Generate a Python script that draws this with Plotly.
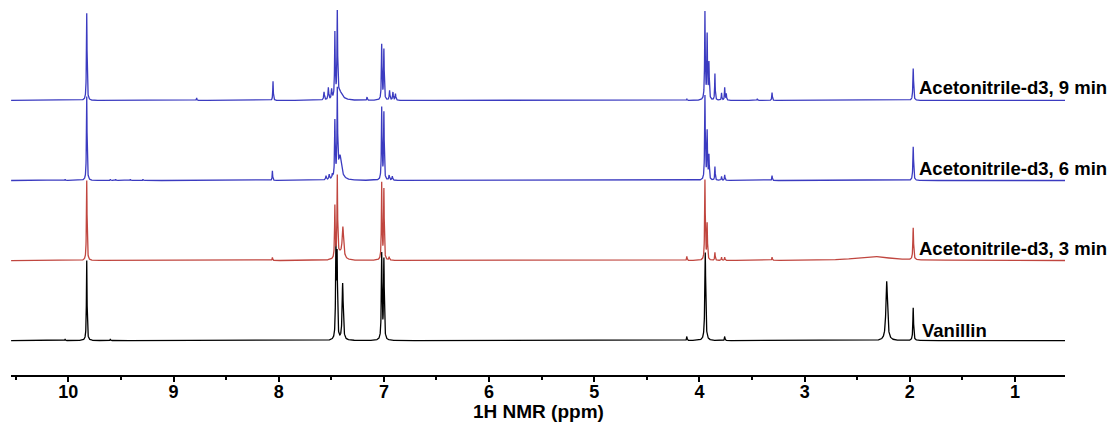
import numpy as np
import plotly.graph_objects as go

# ---- data (ppm, relative intensity, half-width) ----
labels = ["Vanillin", "Acetonitrile-d3, 3 min", "Acetonitrile-d3, 6 min", "Acetonitrile-d3, 9 min"]
colors = ["#000000", "#C0463F", "#3B3BC0", "#3B3BC0"]
offsets = [0, 1, 2, 3]

vanillin_ppm = [10.03, 9.825, 9.60, 7.456, 7.445, 7.392, 7.021, 7.000, 4.12, 3.945, 3.76, 2.22, 1.968]
vanillin_int = [0.02, 1.00, 0.02, 1.15, 1.00, 0.71, 1.07, 1.00, 0.05, 1.10, 0.05, 0.74, 0.41]
vanillin_w = [0.003, 0.0035, 0.003, 0.004, 0.004, 0.006, 0.004, 0.004, 0.003, 0.005, 0.003, 0.009, 0.004]

min3_ppm = [9.825, 8.06, 7.466, 7.443, 7.42, 7.39, 7.021, 7.000, 6.95, 4.12, 3.948, 3.927, 3.853, 3.79, 3.76, 3.31, 2.35, 1.968]
min3_int = [1.00, 0.04, 0.65, 1.00, 0.08, 0.38, 0.96, 0.88, 0.04, 0.05, 1.00, 0.45, 0.10, 0.04, 0.04, 0.04, 0.05, 0.40]
min3_w = [0.0035, 0.003, 0.0035, 0.0035, 0.03, 0.008, 0.0035, 0.0035, 0.004, 0.003, 0.0035, 0.0035, 0.003, 0.003, 0.003, 0.003, 0.2, 0.004]

min6_ppm = [10.03, 9.825, 9.60, 9.55, 9.41, 9.29, 8.06, 7.55, 7.52, 7.49, 7.466, 7.443, 7.42, 7.417, 7.021, 7.000,
            6.95, 6.92, 3.948, 3.927, 3.91, 3.853, 3.79, 3.76, 3.31, 1.968]
min6_int = [0.015, 1.05, 0.015, 0.015, 0.015, 0.015, 0.12, 0.05, 0.06, 0.05, 0.70, 1.05, 0.10, 0.20, 0.90, 0.84,
            0.06, 0.05, 1.05, 0.60, 0.30, 0.17, 0.05, 0.07, 0.06, 0.42]
min6_w = [0.003, 0.0035, 0.003, 0.003, 0.003, 0.003, 0.003, 0.004, 0.004, 0.004, 0.0035, 0.0035, 0.03, 0.013, 0.0035, 0.0035,
          0.004, 0.004, 0.0035, 0.0035, 0.0035, 0.003, 0.003, 0.003, 0.003, 0.004]

min9_ppm = [9.825, 8.78, 8.054, 7.569, 7.528, 7.497, 7.466, 7.443, 7.42, 7.16, 7.021, 7.000, 6.946, 6.914, 6.89,
            4.12, 3.948, 3.927, 3.91, 3.853, 3.79, 3.76, 3.745, 3.45, 3.31, 1.968]
min9_int = [1.09, 0.03, 0.24, 0.10, 0.15, 0.12, 0.81, 1.09, 0.10, 0.04, 0.69, 0.63, 0.12, 0.10, 0.08,
            0.02, 1.09, 0.80, 0.45, 0.33, 0.09, 0.16, 0.08, 0.02, 0.10, 0.40]
min9_w = [0.0035, 0.003, 0.003, 0.004, 0.004, 0.004, 0.0035, 0.0035, 0.03, 0.003, 0.0035, 0.0035, 0.004, 0.004, 0.004,
          0.003, 0.0035, 0.0035, 0.0035, 0.003, 0.003, 0.003, 0.003, 0.003, 0.003, 0.004]

peak_sets = [(vanillin_ppm, vanillin_int, vanillin_w),
             (min3_ppm, min3_int, min3_w),
             (min6_ppm, min6_int, min6_w),
             (min9_ppm, min9_int, min9_w)]

tick_vals = [10, 9, 8, 7, 6, 5, 4, 3, 2, 1]
x_range = [10.545, 0.525]


def spectrum(ppm, inten, width):
    base = np.arange(0.525, 10.545, 0.001)
    grid = np.unique(np.concatenate([base, np.array(ppm)]))[::-1]
    y = np.zeros_like(grid)
    for p, h, w in zip(ppm, inten, width):
        y += h * w**2 / ((grid - p) ** 2 + w**2)
    return grid, y


fig = go.Figure()
for (ppm, inten, width), col, off in zip(peak_sets, colors, offsets):
    xx, yy = spectrum(ppm, inten, width)
    fig.add_trace(go.Scatter(x=xx, y=yy + off, mode="lines",
                             line=dict(color=col, width=1.3), hoverinfo="skip", showlegend=False))

FAM = "Liberation Sans, Arial, sans-serif"
font_lab = dict(family=FAM, size=18.5, color="black", weight="bold")

label_y = [0.125, 0.15, 0.15, 0.165]
label_x = [1.90, 1.93, 1.93, 1.93]
for lab, off, ly, lx in zip(labels, offsets, label_y, label_x):
    fig.add_annotation(x=lx, y=off + ly, xref="x", yref="y", text=lab, showarrow=False,
                       xanchor="left", yanchor="middle", font=font_lab)

fig.add_annotation(x=0.5, y=-0.1, xref="paper", yref="paper", text="1H NMR (ppm)", showarrow=False,
                   xanchor="center", yanchor="middle",
                   font=dict(family=FAM, size=19, color="black", weight="bold"))

fig.update_layout(
    width=1113, height=428,
    margin=dict(l=11, r=48, t=10, b=53),
    paper_bgcolor="white", plot_bgcolor="white",
    xaxis=dict(range=x_range, tickvals=tick_vals, ticks="outside", ticklen=5, tickwidth=1.5,
               tickcolor="black", showline=True, linecolor="black", linewidth=2,
               showgrid=False, zeroline=False,
               tickfont=dict(family=FAM, size=18, color="black", weight="bold"),
               minor=dict(dtick=0.5, ticks="outside", ticklen=3, tickwidth=1.5, tickcolor="black"),
               ticklabelstandoff=-6),
    yaxis=dict(range=[-0.43, 4.13], visible=False, showgrid=False, zeroline=False),
)

fig.write_html("out.html")
